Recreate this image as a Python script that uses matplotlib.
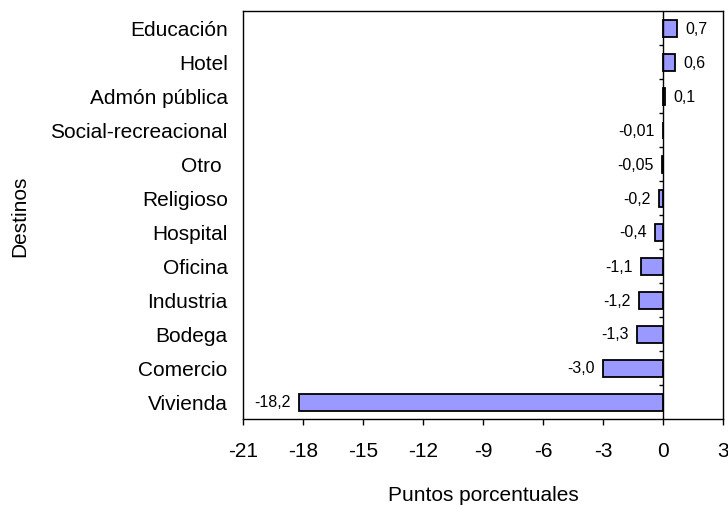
import numpy as np
import matplotlib
matplotlib.use("Agg")
import matplotlib.pyplot as plt

plt.rcParams['font.family'] = ['Liberation Sans', 'DejaVu Sans']

# datos (de abajo hacia arriba)
destinos = ['Vivienda', 'Comercio', 'Bodega', 'Industria', 'Oficina', 'Hospital',
            'Religioso', 'Otro ', 'Social-recreacional', 'Admón pública', 'Hotel', 'Educación']
valores = [-18.2, -3.0, -1.3, -1.2, -1.1, -0.4, -0.2, -0.05, -0.01, 0.1, 0.6, 0.7]
etiquetas = ['-18,2', '-3,0', '-1,3', '-1,2', '-1,1', '-0,4', '-0,2', '-0,05', '-0,01', '0,1', '0,6', '0,7']
xticks = [-21, -18, -15, -12, -9, -6, -3, 0, 3]

fig = plt.figure(figsize=(7.28, 5.06), dpi=100)
ax = fig.add_axes([243 / 728, 1 - 420 / 506, 480 / 728, 408 / 506])

y = np.arange(len(destinos))
ax.barh(y, valores, height=0.5, color='#9999FF', edgecolor='black', linewidth=1.3, zorder=3)

# linea del cero con marcas entre categorias
ax.axvline(0, color='black', linewidth=1.0, zorder=4)
ax.hlines(y[1:] - 0.5, -0.22, 0, color='black', linewidth=1.0, zorder=4)

for yi, v, lab in zip(y, valores, etiquetas):
    if v >= 0:
        ax.annotate(lab, (v, yi), xytext=(6, 0), textcoords='offset points',
                    ha='left', va='center', fontsize=11.5)
    else:
        ax.annotate(lab, (v, yi), xytext=(-6, 0), textcoords='offset points',
                    ha='right', va='center', fontsize=11.5)

ax.set_xlim(-21, 3)
ax.set_ylim(-0.5, len(destinos) - 0.5)
ax.set_xticks(xticks)
ax.set_xticklabels([str(t) for t in xticks])
ax.set_yticks(y)
ax.set_yticklabels(destinos)
ax.tick_params(axis='y', length=0, pad=11, labelsize=15)
ax.tick_params(axis='x', length=4, width=1.0, direction='out', pad=12, labelsize=15)
for s in ax.spines.values():
    s.set_linewidth(1.0)

ax.set_xlabel('Puntos porcentuales', fontsize=15, labelpad=18)
fig.text(20 / 728, 1 - 216 / 506, 'Destinos', rotation=90, ha='center', va='center', fontsize=15)

fig.savefig('out.png', dpi=100)
